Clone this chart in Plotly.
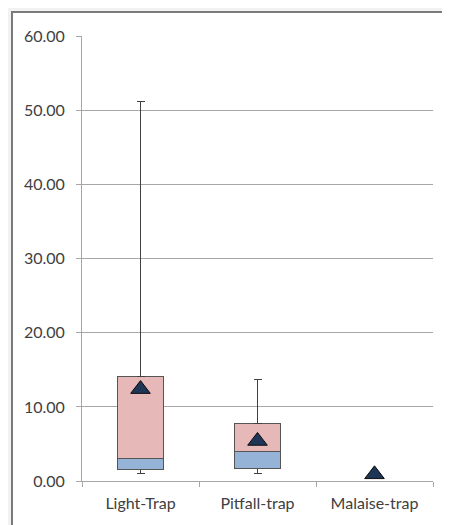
import plotly.graph_objects as go

traps = ["Light-Trap", "Pitfall-trap", "Malaise-trap"]
minimum = [0.95, 0.95, 0.0]
q1 = [1.5, 1.75, 0.0]
median = [3.0, 4.0, 0.0]
q3 = [14.15, 7.8, 0.0]
maximum = [51.2, 13.7, 0.0]
mean = [12.4, 5.4, 0.9]

lower_box = [m - a for m, a in zip(median, q1)]
upper_box = [b - m for b, m in zip(q3, median)]
whisker_low = [a - mn for a, mn in zip(q1, minimum)]
whisker_high = [mx - b for mx, b in zip(maximum, q3)]

edge = "#555555"
err_style = dict(type="data", symmetric=False, color="#404040", thickness=1, width=4)

fig = go.Figure()

fig.add_trace(go.Bar(
    x=traps, y=q1,
    marker=dict(color="rgba(0,0,0,0)", line=dict(width=0)),
    error_y=dict(array=[0, 0, 0], arrayminus=whisker_low, **err_style),
    hoverinfo="skip", showlegend=False
))
fig.add_trace(go.Bar(
    x=traps, y=lower_box,
    marker=dict(color="#95B3D7", line=dict(color=edge, width=1)),
    showlegend=False
))
fig.add_trace(go.Bar(
    x=traps, y=upper_box,
    marker=dict(color="#E6B9B8", line=dict(color=edge, width=1)),
    error_y=dict(array=whisker_high, arrayminus=[0, 0, 0], **err_style),
    showlegend=False
))
fig.add_trace(go.Scatter(
    x=traps, y=mean, mode="markers",
    marker=dict(symbol="triangle-up", size=17, color="#1F3556",
                line=dict(color="#0d0d0d", width=1)),
    showlegend=False
))

# light shadow behind the chart frame, then the frame itself
fig.add_shape(type="rect", xref="paper", yref="paper",
              x0=-0.5, x1=1.5, y0=-0.5, y1=1.5,
              line=dict(width=0), fillcolor="#f2f2f2", layer="below")
fig.add_shape(type="rect", xref="paper", yref="paper",
              x0=-0.1994, x1=1.5, y0=-0.5, y1=1.0539,
              line=dict(color="#7a7a7a", width=2), fillcolor="white", layer="below")

fig.update_layout(
    width=442, height=517,
    margin=dict(l=74, r=17, t=28, b=44),
    barmode="stack", bargap=0.61,
    paper_bgcolor="white", plot_bgcolor="rgba(0,0,0,0)",
    font=dict(family="Lato, Open Sans, sans-serif", size=16, color="#404040"),
    xaxis=dict(
        automargin=False,
        showgrid=False, showline=True, linecolor="#a6a6a6", linewidth=1,
        ticks="outside", tickson="boundaries", ticklen=5, tickcolor="#a6a6a6",
        ticklabelstandoff=8,
        tickfont=dict(size=16, color="#404040")
    ),
    yaxis=dict(
        automargin=False,
        range=[0, 60.05], tickvals=[0, 10, 20, 30, 40, 50, 60], tickformat=".2f",
        showgrid=True, gridcolor="#a6a6a6", gridwidth=1,
        showline=True, linecolor="#a6a6a6", linewidth=1,
        ticks="outside", ticklen=5, tickcolor="#a6a6a6",
        ticklabelstandoff=8,
        zeroline=False, tickfont=dict(size=16, color="#404040")
    )
)

fig.write_html("out.html")
